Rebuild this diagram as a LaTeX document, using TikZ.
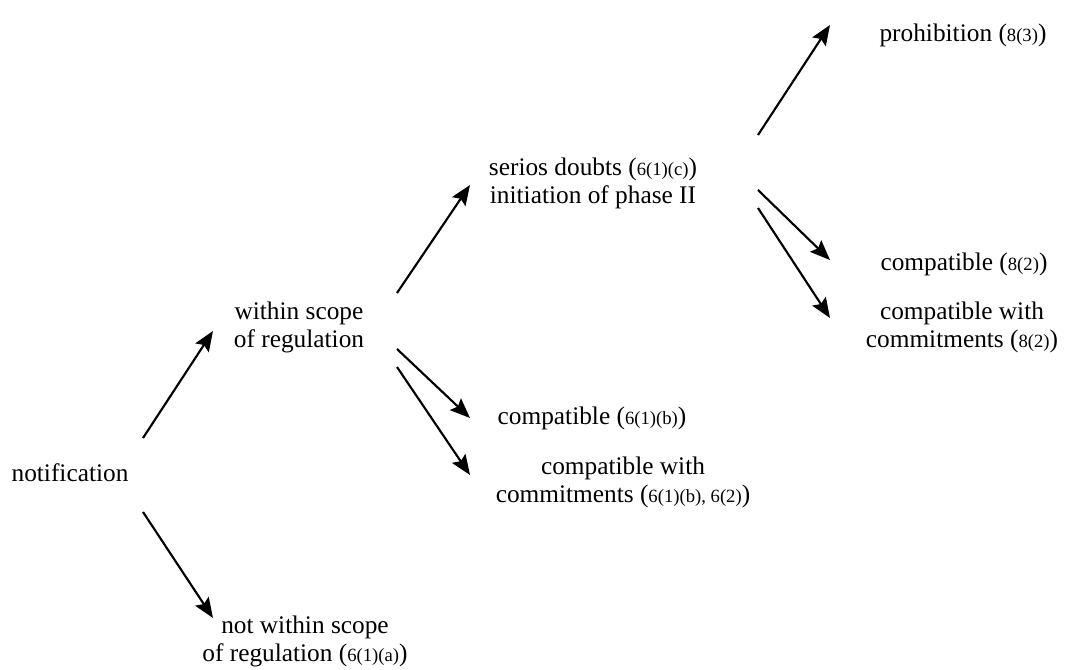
\documentclass[tikz,border=0pt]{standalone}
\usepackage{fontspec}
\setmainfont{Liberation Serif}
\usetikzlibrary{arrows.meta}

\newcommand{\art}[1]{{\fontsize{14}{16}\selectfont #1}}

\begin{document}
\begin{tikzpicture}[x=0.75pt, y=-0.75pt]
        \tikzstyle{every node}=[inner sep=0pt, align=center, font=\fontsize{19}{21}\selectfont]
        \tikzset{arr/.style={line width=1.6pt, -{Stealth[length=15pt, width=12pt, inset=2.5pt]}}}
        \useasboundingbox (0,0) rectangle (1068,670);
        % stage 1
        \node (notif) at (70,473) {notification};
        \node (within) at (299,327) {within scope\\of regulation};
        \node (notin) at (305,641) {not within scope\\of regulation (\art{6(1)(a)})};
        % stage 2
        \node (serios) at (593,183) {serios doubts (\art{6(1)(c)})\\initiation of phase II};
        \node (compb) at (592,418) {compatible (\art{6(1)(b)})};
        \node (compcb) at (623,482) {compatible with\\commitments (\art{6(1)(b), 6(2)})};
        % phase II
        \node (prohib) at (963,35) {prohibition (\art{8(3)})};
        \node (comp) at (964,264) {compatible (\art{8(2)})};
        \node (compc) at (962,327) {compatible with\\commitments (\art{8(2)})};
        % arrows
        \draw[arr] ([shift={(73,-35)}]notif.center) -- ([shift={(-86,4)}]within.center);
        \draw[arr] ([shift={(73,39)}]notif.center) -- ([shift={(-92,-23)}]notin.center);
        \draw[arr] ([shift={(98,-34)}]within.center) -- ([shift={(-123,2)}]serios.center);
        \draw[arr] ([shift={(98,22)}]within.center) -- ([shift={(-122,0)}]compb.center);
        \draw[arr] ([shift={(98,40)}]within.center) -- ([shift={(-153,-7)}]compcb.center);
        \draw[arr] ([shift={(165,-48)}]serios.center) -- ([shift={(-133,-10)}]prohib.center);
        \draw[arr] ([shift={(165,7)}]serios.center) -- ([shift={(-134,-4)}]comp.center);
        \draw[arr] ([shift={(165,25)}]serios.center) -- ([shift={(-132,-9)}]compc.center);
    \end{tikzpicture}
\end{document}
